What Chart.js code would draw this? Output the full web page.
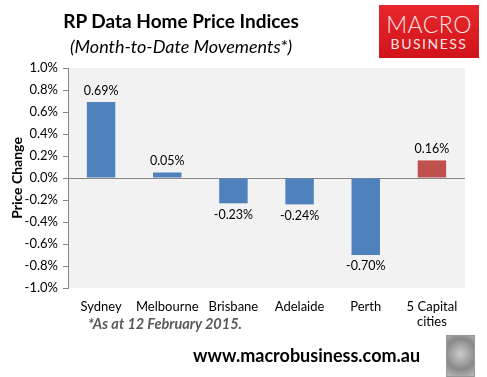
<!DOCTYPE html>
<html>
<head>
<meta charset="utf-8">
<script src="https://cdn.jsdelivr.net/npm/chart.js@4"></script>
<style>
  html, body { margin: 0; padding: 0; background: #fff; }
  #wrap { position: relative; width: 487px; height: 377px; overflow: hidden; font-family: Lato, sans-serif; }
  #chart { position: absolute; left: 0; top: 0; }
  .title { position: absolute; left: 0; width: 362px; text-align: center; color: #000; }
  #t1 { top: 9px; font-size: 19px; font-weight: bold; }
  #t2 { top: 35px; font-size: 18px; font-style: italic; }
  #logo { position: absolute; left: 379px; top: 5px; width: 100px; height: 53px;
          background: linear-gradient(#e8272c, #d0141b); color: #fbe3e3; text-align: center; }
  #logo .m { font-size: 23px; line-height: 23px; margin-top: 8px; letter-spacing: 0.5px; font-weight: 300; }
  #logo .b { font-size: 14px; line-height: 16px; letter-spacing: 1.5px; }
  #note { position: absolute; left: 88px; top: 315px; font-size: 14.5px; font-weight: bold; font-style: italic; color: #595959; }
  #url { position: absolute; left: 193px; top: 344px; font-size: 18px; font-weight: bold; color: #000; }
  #wolf { position: absolute; left: 446px; top: 335px; width: 27px; height: 40px; border: 1px solid #999;
          background: radial-gradient(circle at 50% 45%, #ccc, #888 60%, #bbb); }
</style>
</head>
<body>
<div id="wrap">
  <canvas id="chart" width="487" height="377"></canvas>
  <div class="title" id="t1">RP Data Home Price Indices</div>
  <div class="title" id="t2">(Month-to-Date Movements*)</div>
  <div id="logo"><div class="m">MACRO</div><div class="b">BUSINESS</div></div>
  <div id="note">*As at 12 February 2015.</div>
  <div id="url">www.macrobusiness.com.au</div>
  <div id="wolf"></div>
</div>
<script>
const categories = ['Sydney', 'Melbourne', 'Brisbane', 'Adelaide', 'Perth', ['5 Capital', 'cities']];
const priceChange = [0.69, 0.05, -0.23, -0.24, -0.70, 0.16];
const barColors = ['#4f81bd', '#4f81bd', '#4f81bd', '#4f81bd', '#4f81bd', '#c0504d'];

const plotBg = {
    id: 'plotBg',
    beforeDraw(chart) {
        const { ctx, chartArea: a } = chart;
        ctx.save();
        ctx.fillStyle = '#f2f2f2';
        ctx.fillRect(a.left, a.top, a.right - a.left, a.bottom - a.top);
        ctx.restore();
    }
};

const barLabels = {
    id: 'barLabels',
    afterDatasetsDraw(chart) {
        const { ctx } = chart;
        const meta = chart.getDatasetMeta(0);
        ctx.save();
        ctx.font = '12.5px Lato';
        ctx.fillStyle = '#000';
        ctx.textAlign = 'center';
        meta.data.forEach((bar, i) => {
            const v = priceChange[i];
            const txt = v.toFixed(2) + '%';
            if (v >= 0) {
                ctx.textBaseline = 'bottom';
                ctx.fillText(txt, bar.x, bar.y - 5);
            } else {
                ctx.textBaseline = 'top';
                ctx.fillText(txt, bar.x, bar.y + 5);
            }
        });
        ctx.restore();
    }
};

new Chart(document.getElementById('chart'), {
    type: 'bar',
    data: {
        labels: categories,
        datasets: [{
            data: priceChange,
            backgroundColor: barColors,
            borderWidth: 0,
            categoryPercentage: 1,
            barPercentage: 0.43
        }]
    },
    options: {
        responsive: false,
        animation: false,
        layout: { padding: { top: 68, right: 22, left: 0, bottom: 0 } },
        plugins: { legend: { display: false }, tooltip: { enabled: false } },
        scales: {
            x: {
                grid: { display: false },
                border: { display: false },
                ticks: { color: '#000', font: { family: 'Lato', size: 13, lineHeight: 1.15 }, maxRotation: 0, padding: 3 },
                afterFit(scale) { scale.height = 89; }
            },
            y: {
                min: -1, max: 1,
                border: { display: true, color: '#868686' },
                grid: {
                    drawOnChartArea: true,
                    drawTicks: true,
                    tickLength: 5,
                    tickColor: '#868686',
                    color: (c) => (c.tick && c.tick.value === 0 ? '#868686' : 'rgba(0,0,0,0)')
                },
                ticks: {
                    stepSize: 0.2,
                    color: '#000',
                    font: { family: 'Lato', size: 13 },
                    padding: 5,
                    callback: (v) => v.toFixed(1) + '%'
                },
                title: {
                    display: true,
                    text: 'Price Change',
                    color: '#000',
                    font: { family: 'Lato', size: 14, weight: 'bold' },
                    padding: { top: 9, bottom: 0 }
                },
                afterFit(scale) { scale.width = 68; }
            }
        }
    },
    plugins: [plotBg, barLabels]
});
</script>
</body>
</html>
